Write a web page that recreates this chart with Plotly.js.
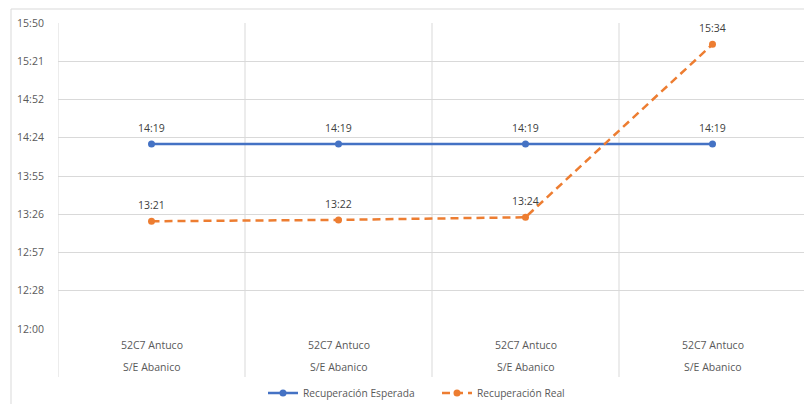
<!DOCTYPE html>
<html>
<head>
<meta charset="utf-8">
<script src="https://cdn.plot.ly/plotly-3.0.1.min.js"></script>
<style>html,body{margin:0;padding:0;background:#fff;overflow:hidden;}#chart{width:804px;height:404px;}</style>
</head>
<body>
<div id="chart"></div>
<script>
var categoriesTop = ["52C7 Antuco", "52C7 Antuco", "52C7 Antuco", "52C7 Antuco"];
var categoriesBottom = ["S/E Abanico", "S/E Abanico", "S/E Abanico", "S/E Abanico"];
var esperada = ["14:19", "14:19", "14:19", "14:19"];
var real = ["13:21", "13:22", "13:24", "15:34"];
var yTickLabels = ["12:00", "12:28", "12:57", "13:26", "13:55", "14:24", "14:52", "15:21", "15:50"];
var seriesNames = ["Recuperación Esperada", "Recuperación Real"];

function toMin(s) { var p = s.split(":"); return (+p[0]) * 60 + (+p[1]); }
var xIdx = categoriesTop.map(function (_, i) { return i; });
var yMin = toMin(yTickLabels[0]), yMax = toMin(yTickLabels[yTickLabels.length - 1]);
var step = (yMax - yMin) / (yTickLabels.length - 1);
var tickVals = yTickLabels.map(function (_, i) { return yMin + i * step; });

var FONT = "Open Sans, Liberation Sans, sans-serif";
var TXT = "#595959";
var GRID = "#d9d9d9";

var W = 804, H = 404;
var plotTop = 23, plotBottom = 329, plotLeft = 58;
var ph = plotBottom - plotTop, pw = W - plotLeft;
function py(px) { return (plotBottom - px) / ph; }
function pxX(px) { return (px - plotLeft) / pw; }
var catW = 187;

var traces = [
  {
    x: xIdx, y: esperada.map(toMin), name: seriesNames[0], mode: "lines+markers",
    line: {color: "#4472C4", width: 2.5},
    marker: {color: "#4472C4", size: 7, symbol: "circle"},
    hoverinfo: "skip", cliponaxis: false
  },
  {
    x: xIdx, y: real.map(toMin), name: seriesNames[1], mode: "lines+markers",
    line: {color: "#ED7D31", width: 2.5, dash: "8px,5px"},
    marker: {color: "#ED7D31", size: 7, symbol: "circle"},
    hoverinfo: "skip", cliponaxis: false
  }
];

var shapes = [];
shapes.push({type: "rect", xref: "paper", yref: "paper", x0: pxX(11), x1: pxX(830), y0: py(440), y1: py(9),
  line: {color: GRID, width: 1}, fillcolor: "rgba(0,0,0,0)", layer: "below"});
for (var i = 0; i < categoriesTop.length; i++) {
  shapes.push({type: "line", xref: "x", yref: "paper", x0: i - 0.5, x1: i - 0.5, y0: py(377), y1: 1,
    line: {color: GRID, width: 1}, layer: "below"});
}

var annotations = [];
for (var j = 0; j < categoriesTop.length; j++) {
  annotations.push({x: j, y: py(345), xref: "x", yref: "paper", text: categoriesTop[j], showarrow: false,
    xanchor: "center", yanchor: "middle", font: {family: FONT, size: 10.5, color: TXT}});
  annotations.push({x: j, y: py(367), xref: "x", yref: "paper", text: categoriesBottom[j], showarrow: false,
    xanchor: "center", yanchor: "middle", font: {family: FONT, size: 10.5, color: TXT}});
}
[esperada, real].forEach(function (arr) {
  arr.forEach(function (v, k) {
    annotations.push({x: k, y: toMin(v), xref: "x", yref: "y", text: v, showarrow: false,
      xanchor: "center", yanchor: "middle", yshift: 16, font: {family: FONT, size: 10.5, color: "#404040"}});
  });
});

var layout = {
  width: W, height: H,
  margin: {l: plotLeft, r: 0, t: plotTop, b: H - plotBottom, pad: 0, autoexpand: false},
  paper_bgcolor: "#fff", plot_bgcolor: "#fff",
  font: {family: FONT, size: 10.5, color: TXT},
  showlegend: true,
  legend: {orientation: "h", x: pxX(437), xanchor: "center", y: py(393), yanchor: "middle",
    font: {family: FONT, size: 10.2, color: TXT}, itemwidth: 30, entrywidth: 129},
  xaxis: {range: [-0.5, -0.5 + pw / catW], showgrid: false, zeroline: false, showticklabels: false,
    ticks: "", showline: false, fixedrange: true},
  yaxis: {range: [yMin, yMax], tickvals: tickVals, ticktext: yTickLabels, showgrid: true, gridcolor: GRID,
    gridwidth: 1, zeroline: false, showline: false, ticks: "outside", ticklen: 11, tickcolor: "rgba(0,0,0,0)",
    tickfont: {family: FONT, size: 10.5, color: TXT}, fixedrange: true, automargin: false},
  shapes: shapes,
  annotations: annotations
};

Plotly.newPlot("chart", traces, layout, {displayModeBar: false, staticPlot: true});
</script>
</body>
</html>
